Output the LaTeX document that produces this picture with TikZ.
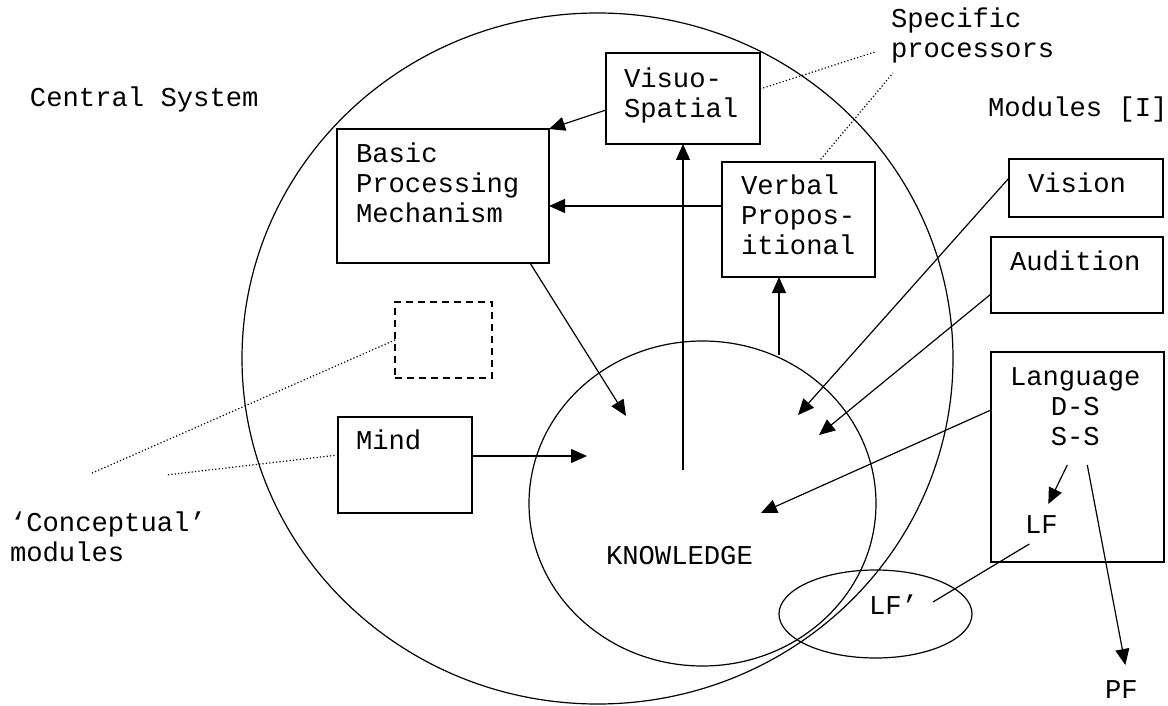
\documentclass[tikz,border=0pt]{standalone}
\usepackage{fontspec}
\setmainfont{Liberation Mono}
\usetikzlibrary{arrows.meta,shapes.geometric}
\tikzset{
  box/.style={draw, rectangle, line width=1.2pt, inner sep=0pt, outer sep=0pt},
  ring/.style={draw, ellipse, line width=1.2pt, inner sep=0pt, outer sep=0pt},
  txt/.style={inner sep=0pt, outer sep=0pt, anchor=base west},
  arr/.style={line width=1.2pt, -{Triangle[length=16pt,width=14pt]}},
  dots/.style={line width=1.2pt, dash pattern=on 1.2pt off 2.2pt},
}
\def\boxtext#1{\begin{tabular}[t]{@{}l@{}}#1\end{tabular}}
\def\boxtextc#1{\begin{tabular}[t]{@{}c@{}}#1\end{tabular}}

\begin{document}
\begin{tikzpicture}[x=1pt, y=-1pt, font=\fontsize{27.2}{30}\selectfont]
		%%%%% START %%%%%
		\useasboundingbox (0, 0) rectangle (1168, 706);
		
		% circles
		\node[ring, minimum width=711pt, minimum height=691pt] (central) at (597.5, 358.5) {};
		\node[ring, minimum width=347pt, minimum height=325pt] (know) at (702.5, 503.5) {};
		\node[ring, minimum width=193pt, minimum height=88pt] (lfe) at (875.5, 614) {};
		
		% boxes
		\node[box, minimum width=154pt, minimum height=91pt] (vis) at (683, 98.5) {};
		\node[box, minimum width=153pt, minimum height=115pt] (verb) at (798.5, 219.5) {};
		\node[box, minimum width=212pt, minimum height=134pt] (bpm) at (443, 196) {};
		\node[box, dash pattern=on 7pt off 5pt, minimum width=97pt, minimum height=76pt] (dbox) at (443.5, 340) {};
		\node[box, minimum width=134pt, minimum height=96pt] (mind) at (405, 465) {};
		\node[box, minimum width=154pt, minimum height=58pt] (vision) at (1086, 188) {};
		\node[box, minimum width=172pt, minimum height=76pt] (aud) at (1077, 275) {};
		\node[box, minimum width=173pt, minimum height=210pt] (lang) at (1077.5, 457) {};
		
		% texts
		\node[txt] (cstext) at (30, 107) {Central System};
		\node[txt] (spec) at (891, 28) {\boxtext{Specific\\processors}};
		\node[txt] (mods) at (988, 117) {Modules [I]};
		\node[txt] (vistext) at (624, 88) {\boxtext{Visuo-\\Spatial}};
		\node[txt] (verbtext) at (741, 195) {\boxtext{Verbal\\Propos-\\itional}};
		\node[txt] (bpmtext) at (356, 163) {\boxtext{Basic\\Processing\\Mechanism}};
		\node[txt] (mindtext) at (356, 449) {Mind};
		\node[txt] (visiontext) at (1028, 193) {Vision};
		\node[txt] (audtext) at (1010, 270) {Audition};
		\node[txt] (langtext) at (1010, 385) {\boxtextc{Language\\D-S\\S-S}};
		\node[txt] (lf) at (1025, 533) {LF};
		\node[txt] (lfp) at (869, 614) {LF’};
		\node[txt] (pf) at (1105, 698) {PF};
		\node[txt] (knowtext) at (606, 564) {KNOWLEDGE};
		\node[txt] (concept) at (10, 531) {\boxtext{‘Conceptual’\\modules}};
		
		% free ends
		\coordinate (k1) at (683, 470);
		\coordinate (k2) at (779, 355);
		\coordinate (k3) at (626, 416);
		\coordinate (k4) at (587, 456);
		\coordinate (k5) at (798, 415);
		\coordinate (k6) at (819, 435);
		\coordinate (k7) at (761, 513);
		\coordinate (sp1) at (875, 52);
		\coordinate (sp2) at (893, 73);
		\coordinate (cm1) at (90, 474);
		\coordinate (cm2) at (166, 475);
		
		% arrows
		\draw[arr] ([yshift=-11.5pt]vis.west) -- (bpm.north east);
		\draw[arr] ([yshift=13.5pt]verb.west) -- ([yshift=-10pt]bpm.east);
		\draw[arr] (k1) -- (vis.south);
		\draw[arr] (k2) -- (k2 |- verb.south);
		\draw[arr] ([xshift=87pt]bpm.south) -- (k3);
		\draw[arr] ([yshift=9pt]mind.east) -- (k4);
		\draw[arr] ([yshift=10pt]vision.west) -- (k5);
		\draw[arr] ([yshift=-19pt]aud.west) -- (k6);
		\draw[arr] ([yshift=47pt]lang.west) -- (k7);
		\draw[arr] ([xshift=-8pt,yshift=-11pt]langtext.south) -- ([xshift=7pt,yshift=29pt]lf.south);
		\draw[arr] ([xshift=12pt,yshift=-11pt]langtext.south) -- ([xshift=4pt,yshift=33pt]pf.south);
		\draw[line width=1.2pt] ([xshift=-12pt,yshift=-11pt]lf.south) -- ([xshift=39.5pt,yshift=12pt]lfp.south);
		
		% dotted pointers
		\draw[dots] ([yshift=9.5pt]vis.east) -- (sp1);
		\draw[dots] ([xshift=20pt]verb.north) -- (sp2);
		\draw[dots] (dbox.west) -- (cm1);
		\draw[dots] ([yshift=10pt]mind.west) -- (cm2);
		
		%%%%% END %%%%%
\end{tikzpicture}
\end{document}
